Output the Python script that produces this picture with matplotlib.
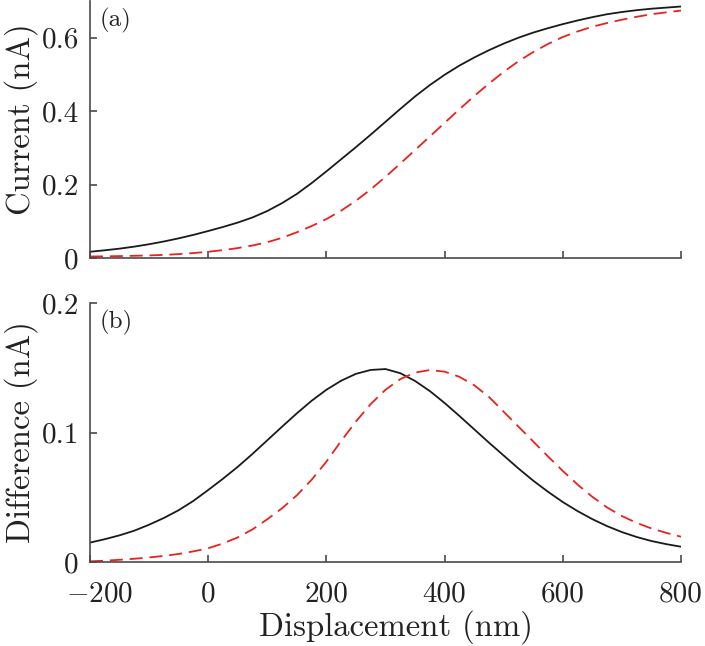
import matplotlib
matplotlib.use('Agg')
import matplotlib.pyplot as plt
import matplotlib.transforms as mtransforms
import numpy as np

plt.rcParams['font.family'] = 'serif'
plt.rcParams['font.serif'] = ['cmr10']
plt.rcParams['mathtext.fontset'] = 'cm'
plt.rcParams['axes.formatter.use_mathtext'] = True

# displacement (nm)
x = np.arange(-200, 801, 25)

# panel (a): current (nA)
cur_solid = [0.017, 0.021, 0.0255, 0.031, 0.0375, 0.045, 0.0535, 0.063, 0.0735, 0.0845,
             0.0965, 0.1105, 0.128, 0.1495, 0.1745, 0.204, 0.236, 0.269, 0.302, 0.336,
             0.371, 0.406, 0.440, 0.471, 0.499, 0.524, 0.546, 0.566, 0.584, 0.600,
             0.614, 0.626, 0.637, 0.647, 0.656, 0.664, 0.670, 0.675, 0.679, 0.682,
             0.685]
cur_dash = [0.004, 0.0045, 0.0052, 0.006, 0.007, 0.0085, 0.0105, 0.0135, 0.017, 0.0215,
            0.027, 0.034, 0.043, 0.055, 0.070, 0.087, 0.106, 0.129, 0.156, 0.187,
            0.221, 0.257, 0.294, 0.331, 0.368, 0.405, 0.441, 0.475, 0.507, 0.536,
            0.561, 0.583, 0.602, 0.617, 0.630, 0.640, 0.649, 0.657, 0.664, 0.669,
            0.674]

# panel (b): difference (nA)
diff_solid = [0.0150, 0.0176, 0.0206, 0.0242, 0.0288, 0.0340, 0.0400, 0.0472, 0.0556, 0.0643,
              0.0735, 0.0835, 0.0940, 0.1045, 0.1148, 0.1245, 0.1330, 0.1400, 0.1453, 0.1483,
              0.1490, 0.1458, 0.1398, 0.1320, 0.1228, 0.1128, 0.1025, 0.0922, 0.0822, 0.0722,
              0.0628, 0.0542, 0.0463, 0.0393, 0.0331, 0.0277, 0.0231, 0.0193, 0.0162, 0.0138,
              0.0118]
diff_dash = [0.0005, 0.001, 0.0017, 0.0025, 0.0035, 0.0047, 0.0062, 0.0082, 0.0106, 0.0143,
             0.0190, 0.0252, 0.0330, 0.0415, 0.0515, 0.0635, 0.0775, 0.0935, 0.1085, 0.1220,
             0.1330, 0.1412, 0.1463, 0.1482, 0.1470, 0.1430, 0.1365, 0.1275, 0.1160, 0.1045,
             0.0930, 0.0815, 0.0703, 0.0598, 0.0503, 0.0421, 0.0355, 0.0302, 0.0259, 0.0225,
             0.0195]

x_ticks = [-200, 0, 200, 400, 600, 800]
x_tick_labels = ['$-200$', '0', '200', '400', '600', '800']
ya_ticks = [0, 0.2, 0.4, 0.6]
ya_tick_labels = ['0', '0.2', '0.4', '0.6']
yb_ticks = [0, 0.1, 0.2]
yb_tick_labels = ['0', '0.1', '0.2']

spine_col = '#4a4a4a'
txt_col = '#222222'
red = '#e8231c'
fs = 21
lfs = 23.5

fig = plt.figure(figsize=(7.05, 6.46), dpi=100)
ax1 = fig.add_axes([90/705, 1 - 258/646, 591/705, 257/646])
ax2 = fig.add_axes([90/705, 1 - 562/646, 591/705, 259/646])

for ax in (ax1, ax2):
    ax.spines['top'].set_visible(False)
    ax.spines['right'].set_visible(False)
    for s in ('left', 'bottom'):
        ax.spines[s].set_color(spine_col)
        ax.spines[s].set_linewidth(1.2)
    ax.tick_params(direction='in', length=5, width=1.2, color=spine_col,
                   labelsize=fs, labelcolor=txt_col)
    ax.tick_params(axis='x', pad=14)
    ax.tick_params(axis='y', pad=8)
    ax.set_xlim(-200, 800)
    ax.set_xticks(x_ticks)

ax1.plot(x, cur_solid, color='#1a1a1a', lw=1.3)
ax1.plot(x, cur_dash, color=red, lw=1.3, linestyle=(0, (7.2, 3.8)))
ax1.set_ylim(0, 0.7)
ax1.set_yticks(ya_ticks)
ax1.set_yticklabels(ya_tick_labels)
ax1.set_xticklabels([])
ax1.set_ylabel('Current (nA)', fontsize=lfs, color=txt_col)
ax1.yaxis.set_label_coords(-0.088, 0.54)
ax1.text(0.017, 0.975, '(a)', transform=ax1.transAxes, fontsize=18,
         va='top', ha='left', color=txt_col)

ax2.plot(x, diff_solid, color='#1a1a1a', lw=1.3)
ax2.plot(x, diff_dash, color=red, lw=1.3, linestyle=(0, (7.2, 3.8)))
ax2.set_ylim(0, 0.2)
ax2.set_yticks(yb_ticks)
ax2.set_yticklabels(yb_tick_labels)
ax2.set_xticklabels(x_tick_labels)
ax2.set_ylabel('Difference (nA)', fontsize=lfs, color=txt_col)
ax2.yaxis.set_label_coords(-0.088, 0.5)
ax2.set_xlabel('Displacement (nm)', fontsize=lfs, color=txt_col)
ax2.xaxis.set_label_coords(0.518, -0.185)
ax2.text(0.017, 0.975, '(b)', transform=ax2.transAxes, fontsize=18,
         va='top', ha='left', color=txt_col)

# nudge the -200 label right, as in the original
lab = ax2.get_xticklabels()[0]
lab.set_transform(lab.get_transform() +
                  mtransforms.ScaledTranslation(0.1, 0, fig.dpi_scale_trans))

fig.savefig('out.png', dpi=100)
